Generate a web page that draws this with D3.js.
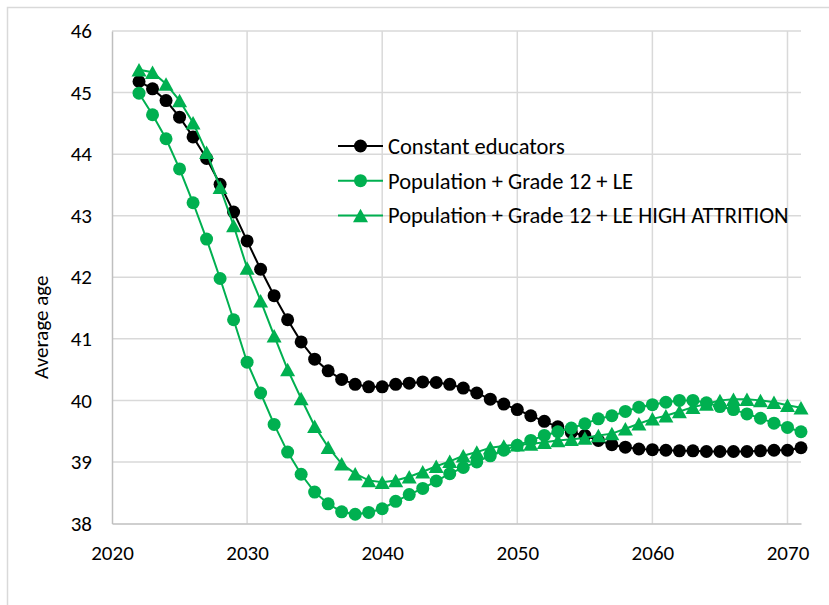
<!DOCTYPE html>
<html>
<head>
<meta charset="utf-8">
<script src="https://cdn.jsdelivr.net/npm/d3@7"></script>
<style>
  html, body { margin: 0; padding: 0; background: #fff; }
  svg { display: block; }
  text { font-family: Carlito, Calibri, Lato, "Open Sans", sans-serif; fill: #000; }
</style>
</head>
<body>
<svg id="chart" width="829" height="605"></svg>
<script>
// Projected average age of educators, 2022–2071
const years = [2022, 2023, 2024, 2025, 2026, 2027, 2028, 2029, 2030, 2031,
               2032, 2033, 2034, 2035, 2036, 2037, 2038, 2039, 2040, 2041,
               2042, 2043, 2044, 2045, 2046, 2047, 2048, 2049, 2050, 2051,
               2052, 2053, 2054, 2055, 2056, 2057, 2058, 2059, 2060, 2061,
               2062, 2063, 2064, 2065, 2066, 2067, 2068, 2069, 2070, 2071];

const constantEducators = [
  45.18, 45.06, 44.87, 44.60, 44.28, 43.93, 43.51, 43.06, 42.59, 42.13,
  41.70, 41.31, 40.95, 40.67, 40.48, 40.34, 40.26, 40.22, 40.22, 40.26,
  40.28, 40.30, 40.29, 40.26, 40.20, 40.12, 40.02, 39.94, 39.85, 39.75,
  39.66, 39.57, 39.48, 39.43, 39.35, 39.28, 39.24, 39.21, 39.20, 39.19,
  39.18, 39.18, 39.17, 39.17, 39.17, 39.17, 39.18, 39.19, 39.19, 39.23];

const popGrade12LE = [
  44.99, 44.64, 44.25, 43.76, 43.21, 42.62, 41.98, 41.31, 40.62, 40.12,
  39.61, 39.16, 38.80, 38.51, 38.32, 38.19, 38.15, 38.18, 38.24, 38.36,
  38.47, 38.57, 38.69, 38.81, 38.91, 39.00, 39.10, 39.19, 39.27, 39.35,
  39.43, 39.49, 39.55, 39.62, 39.70, 39.75, 39.82, 39.89, 39.93, 39.97,
  40.00, 40.00, 39.96, 39.90, 39.85, 39.78, 39.71, 39.63, 39.56, 39.49];

const popGrade12LEHigh = [
  45.37, 45.33, 45.14, 44.87, 44.51, 44.03, 43.46, 42.84, 42.15, 41.62,
  41.05, 40.50, 40.03, 39.58, 39.24, 38.97, 38.81, 38.70, 38.67, 38.70,
  38.76, 38.84, 38.93, 39.01, 39.10, 39.16, 39.23, 39.26, 39.28, 39.29,
  39.32, 39.35, 39.37, 39.39, 39.43, 39.46, 39.54, 39.62, 39.70, 39.75,
  39.82, 39.89, 39.94, 40.00, 40.02, 40.02, 40.00, 39.97, 39.92, 39.88];

const seriesNames = ["Constant educators",
                     "Population + Grade 12 + LE",
                     "Population + Grade 12 + LE HIGH ATTRITION"];
const xTicks = [2020, 2030, 2040, 2050, 2060, 2070];
const yTicks = [38, 39, 40, 41, 42, 43, 44, 45, 46];
const yTitle = "Average age";

const GREEN = "#00b050";
const series = [
  { name: seriesNames[0], values: constantEducators, color: "#000", marker: "circle" },
  { name: seriesNames[1], values: popGrade12LE,      color: GREEN,  marker: "circle" },
  { name: seriesNames[2], values: popGrade12LEHigh,  color: GREEN,  marker: "triangle" }
];

const svg = d3.select("#chart");

// outer chart frame
svg.append("rect")
  .attr("x", 7.5).attr("y", 7.5)
  .attr("width", 840).attr("height", 620)
  .attr("fill", "none").attr("stroke", "#d9d9d9").attr("stroke-width", 1.5);

const plot = { left: 112, right: 801, top: 31, bottom: 523.5 };

const x = d3.scaleLinear().domain([2020, 2071]).range([plot.left, plot.right]);
const y = d3.scaleLinear().domain([38, 46]).range([plot.bottom, plot.top]);

// gridlines
const grid = svg.append("g").attr("stroke", "#d9d9d9").attr("stroke-width", 1.5);
grid.selectAll("line.h").data(yTicks.slice(1)).join("line")
  .attr("x1", plot.left).attr("x2", plot.right)
  .attr("y1", d => y(d)).attr("y2", d => y(d));
grid.selectAll("line.v").data(xTicks.slice(1)).join("line")
  .attr("y1", plot.top).attr("y2", plot.bottom)
  .attr("x1", d => x(d)).attr("x2", d => x(d));

// axes
const xAxis = svg.append("g")
  .attr("transform", `translate(0,${plot.bottom})`)
  .call(d3.axisBottom(x).tickValues(xTicks).tickFormat(d3.format("d")).tickSize(0).tickPadding(20));
const yAxis = svg.append("g")
  .attr("transform", `translate(${plot.left},0)`)
  .call(d3.axisLeft(y).tickValues(yTicks).tickFormat(d3.format("d")).tickSize(0).tickPadding(20));
[xAxis, yAxis].forEach(a => {
  a.select(".domain").attr("stroke", "#bfbfbf").attr("stroke-width", 1.5);
  a.selectAll("text").style("font-size", "21px").attr("fill", "#000");
});
xAxis.selectAll("text").attr("dy", "0.35em").attr("y", 29);

svg.append("text")
  .attr("transform", `translate(41,${(plot.top + plot.bottom) / 2 + 50}) rotate(-90)`)
  .attr("text-anchor", "middle")
  .attr("dy", "0.35em")
  .style("font-size", "21px")
  .text(yTitle);

// series
const line = d3.line().x((d, i) => x(years[i])).y(d => y(d));
const triPath = (s) => `M0,${-s * 0.45}L${s / 2},${s * 0.45}L${-s / 2},${s * 0.45}Z`;

function drawMarker(g, type, color) {
  if (type === "circle") {
    g.append("circle").attr("r", 6.5).attr("fill", color);
  } else {
    g.append("path").attr("d", triPath(15)).attr("fill", color);
  }
}

series.forEach(s => {
  const g = svg.append("g");
  g.append("path")
    .datum(s.values)
    .attr("d", line)
    .attr("fill", "none")
    .attr("stroke", s.color)
    .attr("stroke-width", 2);
  s.values.forEach((v, i) => {
    const m = g.append("g").attr("transform", `translate(${x(years[i])},${y(v)})`);
    drawMarker(m, s.marker, s.color);
  });
});

// legend
const legend = svg.append("g").attr("transform", "translate(338,146)");
series.forEach((s, i) => {
  const row = legend.append("g").attr("transform", `translate(0,${i * 34.7})`);
  row.append("line").attr("x1", 0).attr("x2", 45)
    .attr("stroke", s.color).attr("stroke-width", 2);
  const m = row.append("g").attr("transform", "translate(22.5,0)");
  drawMarker(m, s.marker, s.color);
  row.append("text").attr("x", 50).attr("dy", "0.35em")
    .style("font-size", "22.5px").text(s.name);
});
</script>
</body>
</html>
